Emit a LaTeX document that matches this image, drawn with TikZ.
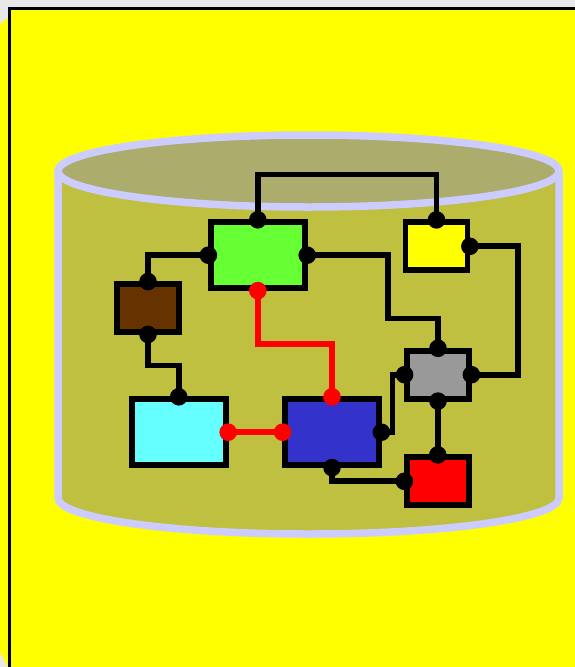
\documentclass[tikz,border=0pt]{standalone}
\usetikzlibrary{calc}
\definecolor{bggray}{HTML}{E8E8E8}
\definecolor{canvasyellow}{HTML}{FFFF00}
\definecolor{lav}{HTML}{CCCCFF}
\definecolor{cylbody}{HTML}{BFBF40}
\definecolor{cyltop}{HTML}{ACAC6C}
\definecolor{cgreen}{HTML}{66FF33}
\definecolor{cbrown}{HTML}{663300}
\definecolor{cyellow}{HTML}{FFFF00}
\definecolor{cgray}{HTML}{999999}
\definecolor{cred}{HTML}{FF0000}
\definecolor{ccyan}{HTML}{66FFFF}
\definecolor{cblue}{HTML}{3333CC}
\tikzset{
  box/.style={draw=black, line width=5.8pt, rectangle, inner sep=0pt, outer sep=2.4pt},
  bigbox/.style={box, minimum width=94pt, minimum height=66pt},
  smallbox/.style={box, minimum width=62pt, minimum height=48pt},
  wire/.style={draw=black, line width=5.8pt},
  redwire/.style={draw=cred, line width=5.8pt},
  blackdot/.style={fill=black},
  reddot/.style={fill=cred},
}
\begin{document}
\begin{tikzpicture}[x=1pt, y=-1pt]
\useasboundingbox (0,0) rectangle (575,667);
% background
\fill[bggray] (0,0) rectangle (575,667);
\fill[canvasyellow] (0,24) -- (10,17) -- (10,667) -- (8,667) -- (0,652) -- cycle;
\filldraw[fill=canvasyellow, draw=black, line width=2.5pt] (9.5,8.5) rectangle (600,700);
% cylinder
\path[draw=lav, fill=cylbody, line width=7.5pt]
  (58,171) -- (58,498) arc[start angle=180, end angle=360, x radius=250.5pt, y radius=36pt] -- (559,171);
\path[draw=lav, fill=cyltop, line width=7.5pt]
  (308.5,171) ellipse [x radius=250.5pt, y radius=36pt];
% boxes
\node[bigbox, fill=cgreen] (green) at (257.8,255.2) {};
\node[smallbox, fill=cbrown] (brown) at (148,308) {};
\node[smallbox, fill=cyellow] (yellowbox) at (436.5,246.3) {};
\node[smallbox, fill=cgray] (graybox) at (438,374.7) {};
\node[smallbox, fill=cred] (redbox) at (437.8,481.3) {};
\node[bigbox, fill=ccyan] (cyanbox) at (178.75,432.2) {};
\node[bigbox, fill=cblue] (bluebox) at (332,432.2) {};
% connectors
\draw[wire] (green.north) -- ++(0,-45.4) -| (yellowbox.north);
\draw[wire] (green.west) -| (brown.north);
\draw[wire] (brown.south) -- ++(0,31) -| (cyanbox.north);
\draw[wire] (green.east) -- ++(81,0) -- ++(0,63.3) -| (graybox.north);
\draw[wire] (yellowbox.east) -- ++(48,0) |- (graybox.east);
\draw[wire] (bluebox.east) -- ++(11,0) |- (graybox.west);
\draw[wire] (bluebox.south) |- (redbox.west);
\draw[wire] (graybox.south) -- (graybox.south |- redbox.north);
\draw[redwire] (green.south) -- ++(0,53.6) -| (bluebox.north);
\draw[redwire] (cyanbox.east) -- (bluebox.west);
% dots
\foreach \p in {green.north, green.west, green.east, brown.north, brown.south,
  cyanbox.north, yellowbox.north, yellowbox.east, graybox.north, graybox.west,
  graybox.east, graybox.south, redbox.north, redbox.west, bluebox.east, bluebox.south}
  \fill[blackdot] (\p) circle[radius=8.8pt];
\foreach \p in {green.south, bluebox.north, cyanbox.east, bluebox.west}
  \fill[reddot] (\p) circle[radius=8.8pt];
\end{tikzpicture}
\end{document}
